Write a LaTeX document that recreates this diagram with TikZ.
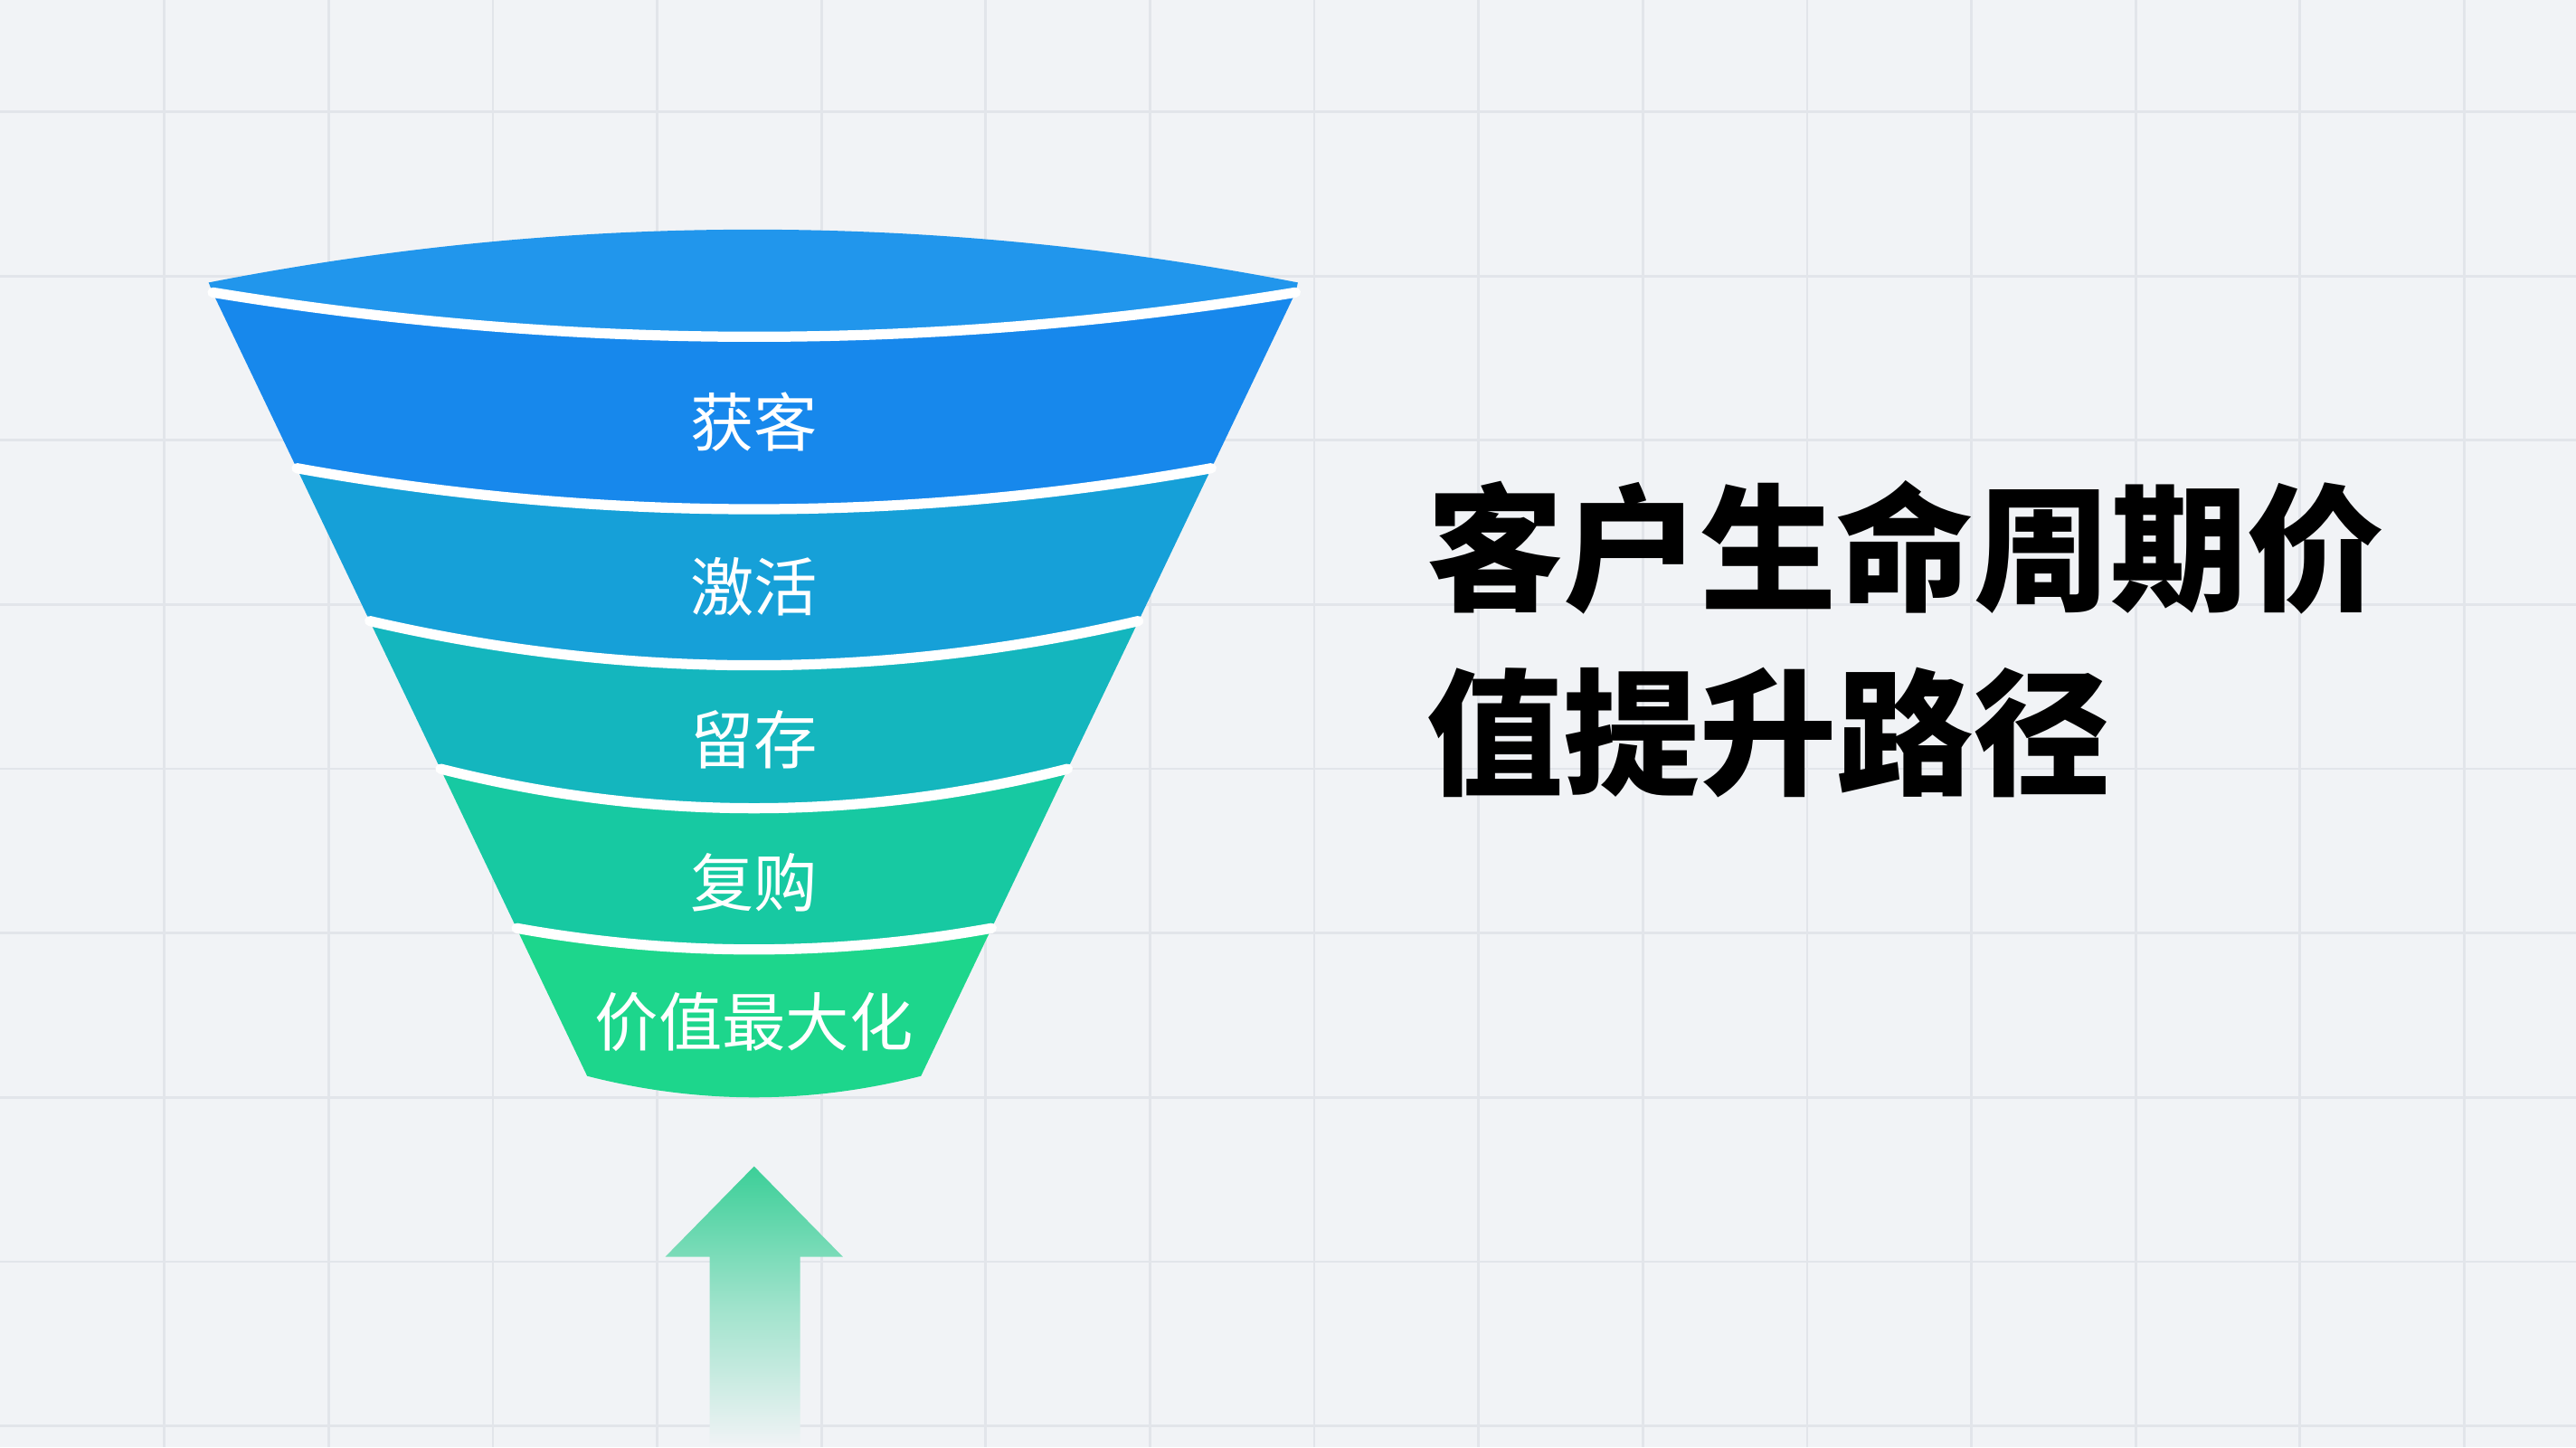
\documentclass[tikz,border=0pt]{standalone}
\usepackage{fontspec}
\setmainfont{Noto Sans CJK SC}
\tikzset{
  sep/.style={draw=white,line width=3.2pt,line cap=round},
  lbl/.style={text=white,font=\fontsize{20}{24}\selectfont},
  ttl/.style={text=black,font=\fontsize{43}{58}\selectfont\bfseries,align=left,anchor=north west,inner sep=0pt}
}
\definecolor{bg}{HTML}{F1F3F6}
\definecolor{gridc}{HTML}{E2E5EA}
\definecolor{capc}{HTML}{2196EC}
\definecolor{c1}{HTML}{1788EC}
\definecolor{c2}{HTML}{16A0D8}
\definecolor{c3}{HTML}{14B6BE}
\definecolor{c4}{HTML}{17C9A2}
\definecolor{c5}{HTML}{1DD68C}
\definecolor{arr}{HTML}{3CCF98}
\begin{document}
\begin{tikzpicture}[x=0.018163cm,y=-0.018163cm]
\useasboundingbox (0,0) rectangle (1568,881);
\fill[bg] (0,0) rectangle (1568,881);
\foreach \x in {100,200,...,1500} \draw[gridc,line width=0.8pt] (\x,0) -- (\x,881);
\foreach \y in {68,168,...,868} \draw[gridc,line width=0.8pt] (0,\y) -- (1568,\y);
% top cap
\fill[capc] (127,172) .. controls (347,129) and (569,129) .. (790,172)
  -- (788.6,178) .. controls (568.9,214) and (349.1,214) .. (129.4,178) -- cycle;
% bands
\fill[c1] (129.4,178) .. controls (349.1,214) and (568.9,214) .. (788.6,178)
  -- (737.4,285) .. controls (551.8,318.3) and (366.2,318.3) .. (180.6,285) -- cycle;
\fill[c2] (180.6,285) .. controls (366.2,318.3) and (551.8,318.3) .. (737.4,285)
  -- (693,378) .. controls (537,414) and (381,414) .. (225,378) -- cycle;
\fill[c3] (225,378) .. controls (381,414) and (537,414) .. (693,378)
  -- (649.9,468) .. controls (522.6,500) and (395.4,500) .. (268.1,468) -- cycle;
\fill[c4] (268.1,468) .. controls (395.4,500) and (522.6,500) .. (649.9,468)
  -- (603.6,565) .. controls (507.2,582.3) and (410.8,582.3) .. (314.4,565) -- cycle;
\fill[c5] (314.4,565) .. controls (410.8,582.3) and (507.2,582.3) .. (603.6,565)
  -- (560.6,655) .. controls (492.9,672.3) and (425.1,672.3) .. (357.4,655) -- cycle;
% separators
\draw[sep] (129.4,178) .. controls (349.1,214) and (568.9,214) .. (788.6,178);
\draw[sep] (180.6,285) .. controls (366.2,318.3) and (551.8,318.3) .. (737.4,285);
\draw[sep] (225,378) .. controls (381,414) and (537,414) .. (693,378);
\draw[sep] (268.1,468) .. controls (395.4,500) and (522.6,500) .. (649.9,468);
\draw[sep] (314.4,565) .. controls (410.8,582.3) and (507.2,582.3) .. (603.6,565);
\node[lbl] (l1) at (459,257) {获客};
\node[lbl] (l2) at (459,357) {激活};
\node[lbl] (l3) at (459,450) {留存};
\node[lbl] (l4) at (459,537) {复购};
\node[lbl] (l5) at (459,622) {价值最大化};
% arrow
\shade[top color=arr,bottom color=bg,middle color=arr!45!bg] (459,710) -- (513,765) -- (487,765) -- (487,881) -- (432,881) -- (432,765) -- (405,765) -- cycle;
\node[ttl] (title) at (868,292) {客户生命周期价\\值提升路径};
\end{tikzpicture}
\end{document}
